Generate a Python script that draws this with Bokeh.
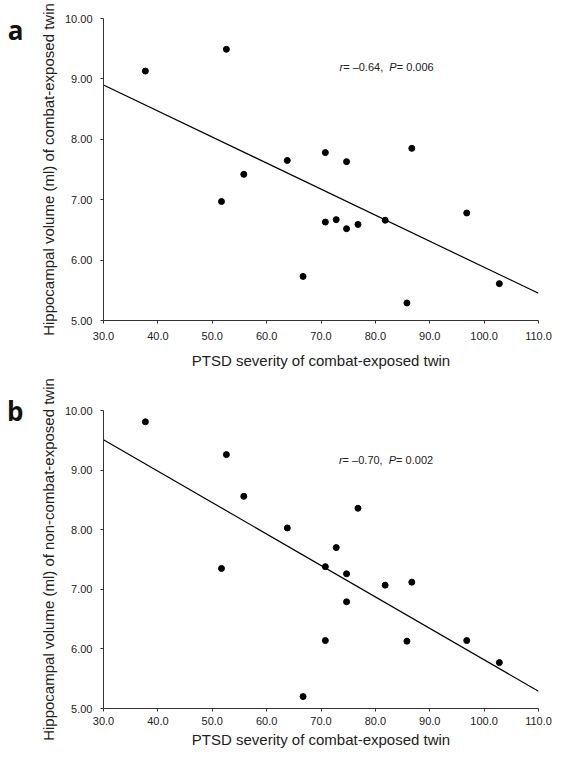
from bokeh.plotting import figure
from bokeh.layouts import column
from bokeh.models import FixedTicker, Label, Range1d, LinearAxis
from bokeh.embed import file_html
from bokeh.resources import INLINE

# ---- data ----
ptsd = [37.7, 51.7, 52.6, 55.8, 63.8, 66.7, 70.8, 70.8, 72.8, 74.7, 74.7, 76.8, 81.8, 85.8, 86.7, 96.8, 102.8]
vol_exposed = [9.13, 6.97, 9.49, 7.42, 7.65, 5.73, 7.78, 6.63, 6.67, 7.63, 6.52, 6.59, 6.66, 5.29, 7.85, 6.78, 5.61]
vol_nonexposed = [9.81, 7.35, 9.26, 8.56, 8.03, 5.20, 7.38, 6.14, 7.70, 7.26, 6.79, 8.36, 7.07, 6.13, 7.12, 6.14, 5.77]

fit_x = [30.0, 110.0]
fit_exposed = [8.90, 5.45]
fit_nonexposed = [9.51, 5.29]

x_ticks = [30, 40, 50, 60, 70, 80, 90, 100, 110]
x_tick_labels = ["30.0", "40.0", "50.0", "60.0", "70.0", "80.0", "90.0", "100.0", "110.0"]
y_ticks = [5, 6, 7, 8, 9, 10]
y_tick_labels = ["5.00", "6.00", "7.00", "8.00", "9.00", "10.00"]

x_title = "PTSD severity of combat-exposed twin"
y_title_a = "Hippocampal volume (ml) of combat-exposed twin"
y_title_b = "Hippocampal volume (ml) of non-combat-exposed twin"
stat_a = ("r", " = \u20130.64, ", "P", " = 0.006")
stat_b = ("r", " = \u20130.70, ", "P", " = 0.002")

FONT = "Liberation Sans"
TXT = "#222222"
W = 558
LEFT = 103


def make_panel(yvals, fit_y, ytitle, letter, letter_y, stat, height, mb_top, frame_h, mb_right,
               x_std, x_lab_std, stat_xy):
    mb_bottom = height - mb_top - frame_h
    p = figure(width=W, height=height, output_backend="svg", toolbar_location=None,
               x_range=Range1d(30, 110), y_range=Range1d(5, 10),
               min_border_left=LEFT, min_border_right=mb_right,
               min_border_top=mb_top, min_border_bottom=mb_bottom)
    p.outline_line_color = None
    p.xgrid.visible = False
    p.ygrid.visible = False
    p.background_fill_color = "white"
    p.border_fill_color = "white"

    p.line(fit_x, fit_y, line_color="black", line_width=1.2)
    p.scatter(ptsd, yvals, size=6, fill_color="black", line_color="black")

    for ax in (p.xaxis[0], p.yaxis[0]):
        ax.axis_line_color = "#333333"
        ax.axis_line_width = 1
        ax.major_tick_line_color = "#333333"
        ax.major_tick_in = 0
        ax.major_tick_out = 3
        ax.minor_tick_line_color = None
        ax.major_label_text_font = FONT
        ax.major_label_text_font_size = "11px"
        ax.major_label_text_color = TXT
        ax.axis_label_text_font = FONT
        ax.axis_label_text_font_size = "15px"
        ax.axis_label_text_font_style = "normal"
        ax.axis_label_text_color = TXT

    p.xaxis[0].ticker = FixedTicker(ticks=x_ticks)
    p.xaxis[0].major_label_overrides = dict(zip(x_ticks, x_tick_labels))
    p.xaxis[0].major_label_standoff = x_std
    p.xaxis[0].axis_label = x_title
    p.xaxis[0].axis_label_standoff = x_lab_std

    p.yaxis[0].ticker = FixedTicker(ticks=y_ticks)
    p.yaxis[0].major_label_overrides = dict(zip(y_ticks, y_tick_labels))
    p.yaxis[0].major_label_standoff = 8
    p.yaxis[0].axis_label = ytitle
    p.yaxis[0].axis_label_standoff = 5

    # panel letter, drawn as the single label of an outer, line-less left axis
    la = LinearAxis(ticker=FixedTicker(ticks=[letter_y]),
                    major_label_overrides={letter_y: letter},
                    axis_line_color=None, major_tick_line_color=None,
                    minor_tick_line_color=None, major_tick_in=0, major_tick_out=0,
                    major_label_standoff=13,
                    major_label_text_font="Open Sans",
                    major_label_text_font_size="26px",
                    major_label_text_font_style="bold",
                    major_label_text_color="#111111")
    p.add_layout(la, "left")

    # statistic annotation, italics for r and P
    size = 11.0
    widths = [0.333, 4.198, 0.667, 3.642]
    off = 0.0
    for piece, w in zip(stat, widths):
        style = "italic" if piece in ("r", "P") else "normal"
        p.add_layout(Label(x=stat_xy[0], y=stat_xy[1], x_offset=off, text=piece,
                           text_font=FONT, text_font_size="11px",
                           text_font_style=style, text_color=TXT,
                           text_baseline="middle", text_align="left"))
        off += w * size
    return p


pa = make_panel(vol_exposed, fit_exposed, y_title_a, "a", 9.81, stat_a,
                height=376, mb_top=18, frame_h=302, mb_right=15,
                x_std=8, x_lab_std=9, stat_xy=(73.4, 9.20))
pb = make_panel(vol_nonexposed, fit_nonexposed, y_title_b, "b", 10, stat_b,
                height=374, mb_top=34, frame_h=299, mb_right=20,
                x_std=5, x_lab_std=3, stat_xy=(73.3, 9.17))

layout = column(pa, pb, spacing=0)
open("out.html", "w").write(file_html(layout, INLINE))
